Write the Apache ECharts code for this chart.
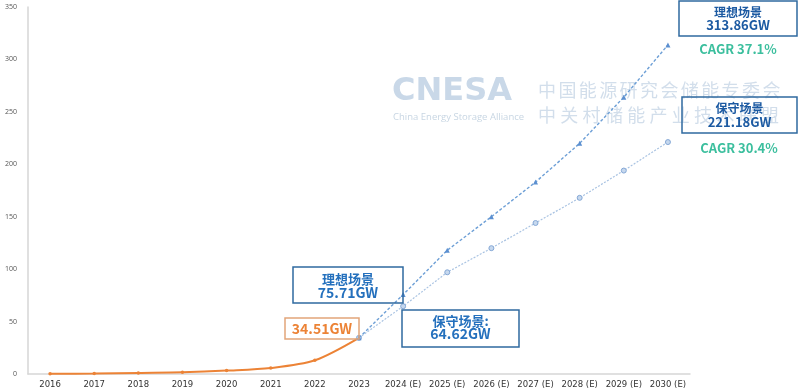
<!DOCTYPE html>
<html><head><meta charset="utf-8">
<script src="https://cdn.jsdelivr.net/npm/echarts@6/dist/echarts.min.js"></script>
<style>html,body{margin:0;padding:0;background:#fff}#c{width:800px;height:392px}</style>
</head><body><div id="c"></div>
<script>
var categories = ['2016','2017','2018','2019','2020','2021','2022','2023','2024 (E)','2025 (E)','2026 (E)','2027 (E)','2028 (E)','2029 (E)','2030 (E)'];
var historyValues = [0.2, 0.39, 1.07, 1.7, 3.28, 5.73, 13.1, 34.51];
var idealValues = [34.51, 75.71, 118, 150, 183, 220, 264, 313.86];
var conservativeValues = [34.51, 64.62, 97, 120, 144, 168, 194, 221.18];
var yTicks = [0, 50, 100, 150, 200, 250, 300, 350];

var pad = new Array(7).fill('-');
var idealSeries = pad.concat(idealValues);
var consSeries = pad.concat(conservativeValues);

var chart = echarts.init(document.getElementById('c'), null, {renderer:'canvas'});

var CJK = '"Noto Sans CJK SC", sans-serif';
var blue = '#2470bd', dark = '#1c5aa2', teal = '#3cbf9e', orange = '#ec8336';

function txt(t, x, y, color, font) {
  return {type:'text', z: 100, style:{text:t, x:x, y:y, textAlign:'center', align:'center',
    textVerticalAlign:'middle', verticalAlign:'middle', fill:color, font:font}};
}
function box(x, y, w, h, stroke, fill, lines, ys, fonts, color) {
  var ch = [{type:'rect', z: 100, shape:{x:x, y:y, width:w, height:h}, style:{fill:fill, stroke:stroke, lineWidth:1.5}}];
  for (var k = 0; k < lines.length; k++) {
    ch.push(txt(lines[k], x + w/2, ys[k], color, 'bold ' + fonts[k] + 'px ' + CJK));
  }
  return {type:'group', children: ch};
}

var wm = [];
wm.push({type:'text', z:0, style:{text:'CNESA', x:392, y:92, verticalAlign:'middle', textVerticalAlign:'middle', fill:'#c9d8e8', font:'bold 32px "DejaVu Sans"'}});
wm.push({type:'text', z:0, style:{text:'China Energy Storage Alliance', x:393, y:117, verticalAlign:'middle', textVerticalAlign:'middle', fill:'#c8d6e3', font:'9.5px "Open Sans"'}});
var row1 = '中国能源研究会储能专委会', row2 = '中关村储能产业技术联盟';
for (var i = 0; i < row1.length; i++) {
  wm.push({type:'text', z:0, style:{text:row1[i], x:538 + i*20.4, y:90, verticalAlign:'middle', textVerticalAlign:'middle', fill:'#d2deeb', font:'18px '+CJK}});
}
for (var j = 0; j < row2.length; j++) {
  wm.push({type:'text', z:0, style:{text:row2[j], x:538 + j*22.3, y:115, verticalAlign:'middle', textVerticalAlign:'middle', fill:'#d2deeb', font:'18px '+CJK}});
}

var annots = [
  box(293, 267, 110, 36, '#2f6aa0', 'none', ['理想场景','75.71GW'], [279, 293], [13, 14], blue),
  box(285, 318, 74, 21, '#e2a57a', 'none', ['34.51GW'], [328.5], [14], orange),
  box(402, 310, 117, 37, '#2f6aa0', 'none', ['保守场景:','64.62GW'], [321, 334], [13, 14], blue),
  box(679, 1, 118, 35, '#2f6aa0', 'none', ['理想场景','313.86GW'], [12, 25.5], [12, 13], dark),
  box(682, 97, 115, 36, '#2f6aa0', 'none', ['保守场景','221.18GW'], [108, 122], [12, 13], dark),
  txt('CAGR 37.1%', 738, 49, teal, 'bold 13px ' + CJK),
  txt('CAGR 30.4%', 739, 148, teal, 'bold 13px ' + CJK)
];

chart.setOption({
  animation: false,
  backgroundColor: '#fff',
  grid: {left: 28, right: 110, top: 7, bottom: 18, containLabel: false},
  xAxis: {
    type: 'category', data: categories, boundaryGap: true,
    axisLine: {lineStyle: {color: '#d6d6d6', width: 1.5}},
    axisTick: {show: false},
    axisLabel: {fontSize: 8.5, color: '#333', margin: 6, fontFamily: '"DejaVu Sans"', interval: 0}
  },
  yAxis: {
    type: 'value', min: yTicks[0], max: yTicks[yTicks.length-1], interval: 50,
    axisLine: {show: true, lineStyle: {color: '#d6d6d6', width: 1.5}},
    axisTick: {show: false},
    splitLine: {show: false},
    axisLabel: {fontSize: 7, color: '#555', margin: 11, fontFamily: '"Open Sans"'}
  },
  series: [
    {name:'history', type:'line', data: historyValues, smooth: 0.3, z: 3,
      lineStyle:{color: orange, width: 2}, itemStyle:{color: orange},
      symbol:'circle', symbolSize: 3.5},
    {name:'conservative', type:'line', data: consSeries, z: 4,
      lineStyle:{color:'#a9c3e2', width: 1.2, type:[2,1.5]},
      itemStyle:{color:'#c6d8ee', borderColor:'#85a8d6', borderWidth: 1},
      symbol:'circle', symbolSize: 5},
    {name:'ideal', type:'line', data: idealSeries, z: 5,
      lineStyle:{color:'#6d9fd6', width: 1.4, type:[3,2]},
      itemStyle:{color:'#5b8fd0'},
      symbol:'triangle', symbolSize: 5}
  ],
  graphic: wm.concat(annots)
});
</script>
</body></html>
